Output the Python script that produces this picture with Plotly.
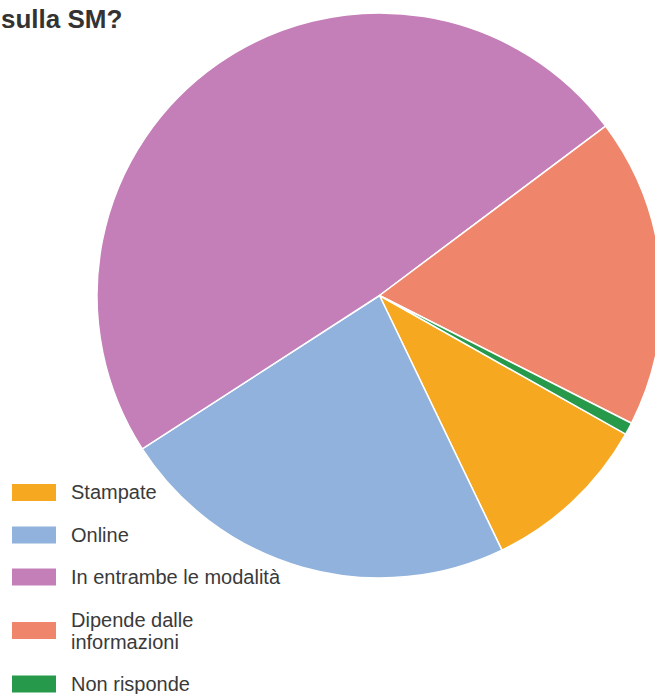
import plotly.graph_objects as go

# ---- data ----
labels = ["Stampate", "Online", "In entrambe le modalità", "Dipende dalle informazioni", "Non risponde"]
values = [9.7, 23.0, 48.9, 17.7, 0.7]
colors = ["#F6A821", "#90B2DC", "#C47EB8", "#EF866B", "#27994A"]
legend_lines = [["Stampate"], ["Online"], ["In entrambe le modalità"], ["Dipende dalle", "informazioni"], ["Non risponde"]]
title_text = "sulla SM?"

W, H = 672, 694

def px(x):
    return x / W

def py(y):
    return 1 - y / H

fig = go.Figure(go.Pie(
    labels=labels,
    values=values,
    sort=False,
    direction="clockwise",
    rotation=119.4,
    textinfo="none",
    marker=dict(colors=colors, line=dict(color="white", width=1.5)),
    domain=dict(x=[px(97), px(662)], y=[py(578), py(13)]),
    showlegend=False,
))

shapes = []
annotations = []
centers = [492.5, 535, 577, 630.5, 684]
for i, lab in enumerate(labels):
    cy = centers[i]
    shapes.append(dict(type="rect", xref="paper", yref="paper",
                       x0=px(12), x1=px(56), y0=py(cy + 8.5), y1=py(cy - 8.5),
                       fillcolor=colors[i], line=dict(width=0)))
    lines = legend_lines[i]
    n = len(lines)
    for j, ln in enumerate(lines):
        ty = cy + (j - (n - 1) / 2) * 22
        annotations.append(dict(text=ln, x=px(69), y=py(ty), xref="paper", yref="paper",
                                xanchor="left", yanchor="middle", showarrow=False,
                                font=dict(family="Liberation Sans, Arial", size=20, color="#3a3a3a")))

annotations.append(dict(text="<b>" + title_text + "</b>", x=px(-1), y=py(19), xref="paper", yref="paper",
                        xanchor="left", yanchor="middle", showarrow=False,
                        font=dict(family="Liberation Sans, Arial", size=26, color="#333333")))

fig.update_layout(
    width=W, height=H,
    margin=dict(l=0, r=0, t=0, b=0),
    paper_bgcolor="white", plot_bgcolor="white",
    shapes=shapes, annotations=annotations,
)

fig.write_html("out.html", config={"displayModeBar": False},
               post_script="document.body.style.margin='0';document.body.style.overflow='hidden';document.documentElement.style.overflow='hidden';")
